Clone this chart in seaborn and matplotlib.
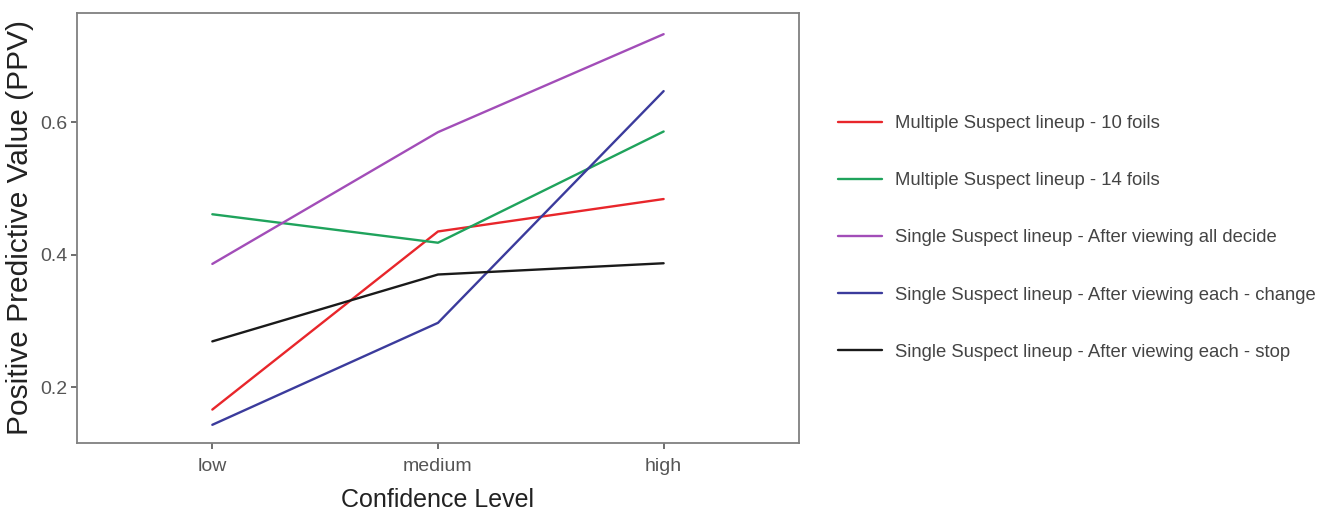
import matplotlib
matplotlib.use('Agg')
import matplotlib.pyplot as plt
import seaborn as sns
import pandas as pd

levels = ['low', 'medium', 'high']
series_names = [
    'Multiple Suspect lineup - 10 foils',
    'Multiple Suspect lineup - 14 foils',
    'Single Suspect lineup - After viewing all decide',
    'Single Suspect lineup - After viewing each - change',
    'Single Suspect lineup - After viewing each - stop',
]
ppv_10_foils = [0.166, 0.435, 0.484]
ppv_14_foils = [0.461, 0.418, 0.586]
ppv_all_decide = [0.386, 0.585, 0.733]
ppv_each_change = [0.143, 0.297, 0.647]
ppv_each_stop = [0.269, 0.370, 0.387]
colors = ['#E8262B', '#1FA35C', '#A24DB8', '#3B3B9C', '#1A1A1A']

rows = []
for name, vals in zip(series_names, [ppv_10_foils, ppv_14_foils, ppv_all_decide,
                                     ppv_each_change, ppv_each_stop]):
    for lev, v in zip(levels, vals):
        rows.append({'level': lev, 'ppv': v, 'lineup': name})
df = pd.DataFrame(rows)

sns.set_theme(style='white')
plt.rcParams['font.family'] = ['Liberation Sans', 'DejaVu Sans']

fig = plt.figure(figsize=(13.22, 5.17), dpi=100)
ax = fig.add_axes([0.0582, 0.1431, 0.5462, 0.8318])

sns.lineplot(data=df, x='level', y='ppv', hue='lineup', hue_order=series_names,
             palette=colors, lw=1.7, ax=ax, sort=False)

ax.set_xlim(-0.6, 2.6)
ax.set_ylim(0.1155, 0.765)
ax.set_yticks([0.2, 0.4, 0.6])
ax.set_yticklabels(['0.2', '0.4', '0.6'])
ax.tick_params(axis='both', which='both', direction='out', length=4, width=1.2,
               color='#555555', labelcolor='#555555', labelsize=14, left=True, bottom=True, pad=3)
ax.tick_params(axis='x', pad=7)
for s in ax.spines.values():
    s.set_color('#808080')
    s.set_linewidth(1.3)

ax.set_xlabel('Confidence Level', fontsize=18, color='#222222', labelpad=9)
ax.set_ylabel('Positive Predictive Value (PPV)', fontsize=21.5, color='#222222', labelpad=4)

ax.get_legend().remove()
handles, labels = ax.get_legend_handles_labels()
leg = fig.legend(handles, labels, loc='upper left', bbox_to_anchor=(0.634, 0.777),
                 frameon=False, fontsize=13.3, handlelength=2.4, handletextpad=0.7,
                 labelspacing=2.17, borderpad=0, borderaxespad=0, labelcolor='#444444')
for h in leg.legend_handles:
    h.set_linewidth(1.7)

fig.savefig('out.png', dpi=100)
